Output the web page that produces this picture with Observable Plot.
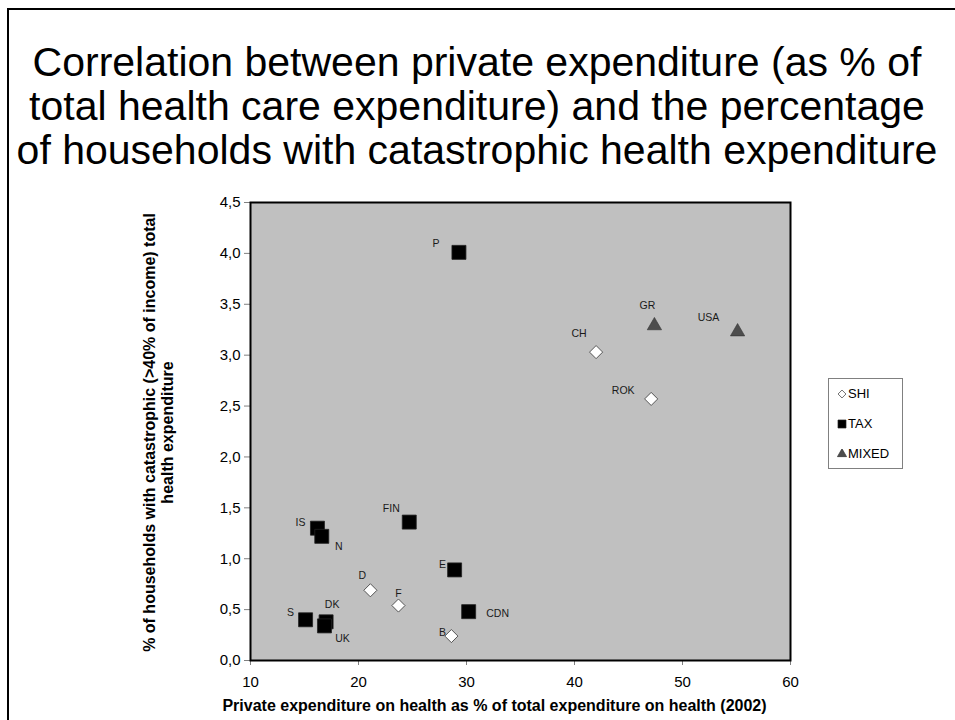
<!DOCTYPE html>
<html>
<head>
<meta charset="utf-8">
<script src="https://cdn.jsdelivr.net/npm/d3@7"></script>
<script src="https://cdn.jsdelivr.net/npm/@observablehq/plot@0.6"></script>
<style>
  html, body { margin: 0; padding: 0; background: #fff; }
  #page { position: relative; width: 955px; height: 720px; overflow: hidden; font-family: "Liberation Sans", Arial, sans-serif; }
  #edge { position: absolute; left: 7px; top: 8px; width: 1000px; height: 1000px; border-top: 2px solid #000; border-left: 2px solid #000; }
  #title { position: absolute; left: 0; top: 40px; width: 954px; text-align: center; font-size: 41px; line-height: 44px; color: #000; }
  #chart { position: absolute; left: 0; top: 190px; }
  #chart svg { overflow: visible; }
  #legend { position: absolute; left: 828px; top: 378px; width: 73px; height: 89px; border: 1px solid #808080; background: #fff; font-size: 13px; }
  #legend .row { position: absolute; left: 8px; display: flex; align-items: center; gap: 1px; line-height: 14px; }
  #legend svg { display: block; }
</style>
</head>
<body>
<div id="page">
  <div id="edge"></div>
  <div id="title">Correlation between private expenditure (as % of<br>total health care expenditure) and the percentage<br>of households with catastrophic health expenditure</div>
  <div id="chart"></div>
  <div id="legend"></div>
</div>
<script>
// Countries, their private share of health spending (2002), share of households
// with catastrophic spending, and the health financing system.
const countries = ["P", "GR", "USA", "CH", "ROK", "IS", "N", "FIN", "E", "D", "F", "CDN", "B", "S", "DK", "UK"];
const privateShare = [29.3, 47.4, 55.1, 42.0, 47.1, 16.2, 16.6, 24.7, 28.9, 21.1, 23.7, 30.2, 28.6, 15.1, 17.0, 16.85];
const catastrophic = [4.01, 3.29, 3.23, 3.03, 2.57, 1.30, 1.22, 1.36, 0.89, 0.69, 0.54, 0.48, 0.24, 0.40, 0.38, 0.34];
const system = ["TAX", "MIXED", "MIXED", "SHI", "SHI", "TAX", "TAX", "TAX", "TAX", "SHI", "SHI", "TAX", "SHI", "TAX", "TAX", "TAX"];

const systems = ["SHI", "TAX", "MIXED"];
const xTicks = [10, 20, 30, 40, 50, 60];
const yTicks = [0, 0.5, 1, 1.5, 2, 2.5, 3, 3.5, 4, 4.5];

// Where each country's label sits relative to its marker (pixels).
const labelOffset = {
  P: [-23, -5], GR: [-7, -17], USA: [-29, -11], CH: [-17, -15], ROK: [-28, -5],
  IS: [-17, -2], N: [17, 14], FIN: [-18, -10], E: [-12, -2], D: [-8, -11],
  F: [0, -9], CDN: [29, 5], B: [-9, 0], S: [-15, -4], DK: [6, -14], UK: [18, 16]
};

const rows = countries.map((c, i) => ({
  country: c, x: privateShare[i], y: catastrophic[i], system: system[i]
}));

const markerStyle = {
  SHI: {symbol: "diamond2", r: 5.9, fill: "#ffffff", stroke: "#333333", strokeWidth: 0.8},
  TAX: {symbol: "square", r: 7.9, fill: "#000000", stroke: "#222222", strokeWidth: 0.8},
  MIXED: {symbol: "triangle", r: 5.3, fill: "#4d4d4d", stroke: "#333333", strokeWidth: 0.6}
};

const commaFormat = d => d3.format(".1f")(d).replace(".", ",");

const chart = Plot.plot({
  width: 955,
  height: 530,
  marginTop: 12,
  marginBottom: 60,
  marginLeft: 250,
  marginRight: 165,
  style: {fontFamily: "'Liberation Sans', Arial, sans-serif", background: "transparent", color: "#000", overflow: "visible"},
  x: {domain: [10, 60]},
  y: {domain: [0, 4.5]},
  marks: [
    Plot.frame({fill: "#c0c0c0"}),
    Plot.axisX({ticks: xTicks, tickSize: 5, tickPadding: 11, fontSize: 15, stroke: "#808080", label: null, tickFormat: d => d}),
    Plot.axisY({ticks: yTicks, tickSize: 6, tickPadding: 4, fontSize: 15, stroke: "#808080", label: null, tickFormat: commaFormat}),
    // country labels first so markers can overlap them slightly
    Plot.text(rows, {
      x: "x", y: "y", text: "country",
      fontSize: 10.5, fill: "#1a1a1a",
      render: (index, scales, values, dims, context, next) => {
        const g = next(index, scales, values, dims, context);
        d3.select(g).selectAll("text").each(function(_, j) {
          const i = index[j];
          const [ox, oy] = labelOffset[rows[i].country];
          this.setAttribute("transform", `translate(${values.x[i] + ox},${values.y[i] + oy})`);
          this.removeAttribute("x");
          this.removeAttribute("y");
        });
        return g;
      }
    }),
    ...systems.map(s => Plot.dot(rows.filter(d => d.system === s), {x: "x", y: "y", ...markerStyle[s]})),
    Plot.frame({stroke: "#000", strokeWidth: 2}),
    Plot.text(["Private expenditure on health as % of total expenditure on health (2002)"], {
      frameAnchor: "bottom", dx: -26, dy: 50, text: d => d,
      fontSize: 16, fontWeight: "bold", fill: "#000"
    }),
    Plot.text(["% of households with catastrophic (>40% of income) total\nhealth expenditure"], {
      frameAnchor: "left", textAnchor: "middle", dx: -92, dy: 1, rotate: -90, text: d => d, lineHeight: 1.08,
      fontSize: 16, fontWeight: "bold", fill: "#000"
    })
  ]
});
document.getElementById("chart").appendChild(chart);

// Legend box with one row per financing system
const legend = d3.select("#legend");
const legendTop = {SHI: 8, TAX: 38, MIXED: 68};
systems.forEach(s => {
  const row = legend.append("div").attr("class", "row").style("top", legendTop[s] + "px");
  const svg = row.append("svg").attr("width", 10).attr("height", 10);
  const st = markerStyle[s];
  const sym = {diamond2: d3.symbolDiamond2, square: d3.symbolSquare, triangle: d3.symbolTriangle}[st.symbol];
  const size = {SHI: 40, TAX: 64, MIXED: 36}[s];
  svg.append("path")
    .attr("transform", "translate(5,5)")
    .attr("d", d3.symbol(sym, size)())
    .attr("fill", st.fill)
    .attr("stroke", st.stroke)
    .attr("stroke-width", 0.7);
  row.append("span").text(s);
});
</script>
</body>
</html>
